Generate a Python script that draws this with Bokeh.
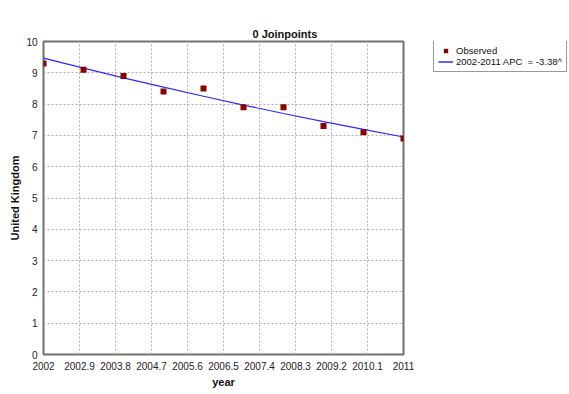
import math
from bokeh.plotting import figure
from bokeh.layouts import row
from bokeh.models import (FixedTicker, Legend, LegendItem, Range1d, Title)
from bokeh.embed import file_html
from bokeh.resources import INLINE

years = [2002, 2003, 2004, 2005, 2006, 2007, 2008, 2009, 2010, 2011]
observed = [9.3, 9.1, 8.9, 8.4, 8.5, 7.9, 7.9, 7.3, 7.1, 6.9]
fitted = [9.47, 9.15, 8.84, 8.54, 8.25, 7.97, 7.70, 7.44, 7.19, 6.95]
x_ticks = [2002, 2002.9, 2003.8, 2004.7, 2005.6, 2006.5, 2007.4, 2008.3, 2009.2, 2010.1, 2011]
x_tick_labels = ["2002", "2002.9", "2003.8", "2004.7", "2005.6", "2006.5", "2007.4", "2008.3", "2009.2", "2010.1", "2011"]
y_ticks = [0, 1, 2, 3, 4, 5, 6, 7, 8, 9, 10]
title_text = "0 Joinpoints"
x_label = "year"
y_label = "United Kingdom"
legend_labels = ["Observed", "2002-2011 APC  = -3.38^"]

FONT = "Liberation Sans"
OBS_COLOR = "#8b0000"
LINE_COLOR = "#2a2aff"

p = figure(width=420, height=394, output_backend="svg", toolbar_location=None,
           x_range=Range1d(2002, 2011), y_range=Range1d(0, 10),
           min_border_left=43, min_border_right=17, min_border_top=41, min_border_bottom=40)

p.background_fill_color = "white"
p.border_fill_color = "white"
p.outline_line_color = "#707070"
p.outline_line_width = 2

# the built-in title (nearest the plot area) is an invisible spacer
p.title.text = " "
p.title.text_font = FONT
p.title.text_font_size = "11px"
p.title.standoff = 8
p.title.text_alpha = 0

# the visible title sits above the spacer
main_title = Title(text=title_text, align="left", offset=209, vertical_align="top", standoff=0,
                   text_font=FONT, text_font_size="11px", text_font_style="bold", text_color="#111111")
p.add_layout(main_title, "above")

p.line(years, fitted, line_color=LINE_COLOR, line_width=1.2)
p.scatter(years, observed, marker="square", size=6, fill_color=OBS_COLOR, line_color=None)

for ax in (p.xaxis[0], p.yaxis[0]):
    ax.axis_line_color = None
    ax.major_tick_line_color = None
    ax.minor_tick_line_color = None
    ax.major_tick_out = 0
    ax.major_tick_in = 0
    ax.minor_tick_out = 0
    ax.major_label_text_font = FONT
    ax.major_label_text_font_size = "10px"
    ax.major_label_text_color = "#222222"
    ax.axis_label_text_font = FONT
    ax.axis_label_text_font_size = "11px"
    ax.axis_label_text_font_style = "bold"
    ax.axis_label_text_color = "#111111"

p.xaxis[0].axis_label = x_label
p.xaxis[0].major_label_standoff = 7
p.xaxis[0].axis_label_standoff = 3
p.yaxis[0].axis_label = y_label
p.yaxis[0].major_label_standoff = 6
p.yaxis[0].axis_label_standoff = 2

p.xaxis[0].ticker = FixedTicker(ticks=x_ticks)
p.xaxis[0].major_label_overrides = {t: l for t, l in zip(x_ticks, x_tick_labels)}
p.yaxis[0].ticker = FixedTicker(ticks=y_ticks)
p.yaxis[0].major_label_overrides = {t: str(t) for t in y_ticks}

for g in (p.xgrid[0], p.ygrid[0]):
    g.grid_line_color = "#b0b0b0"
    g.grid_line_dash = "2 2"
    g.grid_line_width = 1
p.xgrid[0].ticker = FixedTicker(ticks=x_ticks)
p.ygrid[0].ticker = FixedTicker(ticks=y_ticks)

# Legend panel: separate figure to the right; its renderers reuse the data
# but fall outside its (0..1) ranges, so only the legend is visible there.
q = figure(width=149, height=394, output_backend="svg", toolbar_location=None,
           title=None, x_axis_location=None, y_axis_location=None,
           x_range=Range1d(0, 1), y_range=Range1d(0, 1),
           min_border_left=0, min_border_right=0, min_border_top=21, min_border_bottom=0)
q.grid.visible = False
q.outline_line_color = None
q.background_fill_color = "white"
q.border_fill_color = "white"
leg_pts = q.scatter(years, observed, marker="square", size=6, fill_color=OBS_COLOR, line_color=None)
leg_line = q.line(years, fitted, line_color=LINE_COLOR, line_width=1.5)

legend = Legend(items=[LegendItem(label=legend_labels[0], renderers=[leg_pts]),
                       LegendItem(label=legend_labels[1], renderers=[leg_line])],
                location=(13, 282), orientation="vertical")
legend.label_text_font = FONT
legend.label_text_font_size = "9.5px"
legend.label_text_color = "#111111"
legend.label_height = 11
legend.glyph_height = 11
legend.glyph_width = 15
legend.label_standoff = 3
legend.spacing = 0
legend.padding = 4
legend.margin = 0
legend.border_line_color = "#333333"
legend.border_line_width = 1
legend.background_fill_alpha = 1
q.add_layout(legend, "center")

layout = row(p, q, spacing=0)
open("out.html", "w").write(file_html(layout, INLINE))
